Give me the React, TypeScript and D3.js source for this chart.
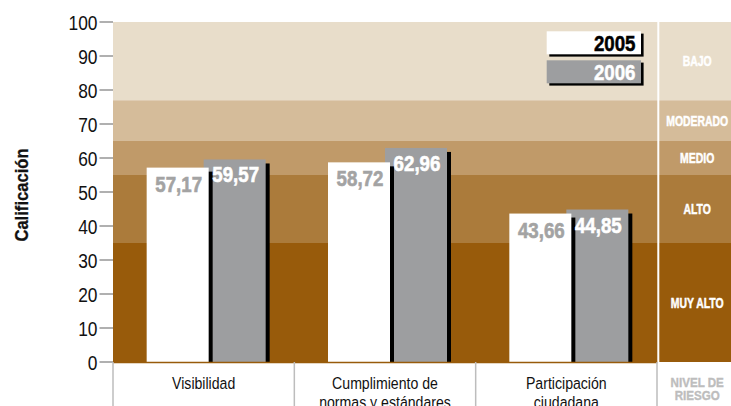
import React from "react";
import * as d3 from "d3";

const categories = ["Visibilidad", "Cumplimiento de|normas y estándares", "Participación|ciudadana"];
const values2005 = [57.17, 58.72, 43.66];
const values2006 = [59.57, 62.96, 44.85];
const yTicks = [0, 10, 20, 30, 40, 50, 60, 70, 80, 90, 100];
const riskBands = [
  { label: "MUY ALTO", from: 0, to: 35, color: "#985b0b" },
  { label: "ALTO", from: 35, to: 55, color: "#ab7b3b" },
  { label: "MEDIO", from: 55, to: 65, color: "#c09a69" },
  { label: "MODERADO", from: 65, to: 77, color: "#d5bc9a" },
  { label: "BAJO", from: 77, to: 100, color: "#e8ddca" },
];
const seriesNames = ["2005", "2006"];

const W = 731;
const H = 406;
const FONT = "'Liberation Sans', Arial, Helvetica, sans-serif";
const GRAY = "#9d9ea0";

const locale = d3.formatLocale({ decimal: ",", thousands: ".", grouping: [3], currency: ["", ""] });
const fmt = locale.format(".2f");

type STProps = {
  x: number;
  y: number;
  sx: number;
  anchor?: "start" | "middle" | "end";
  size: number;
  bold?: boolean;
  heavy?: number;
  fill: string;
  children: React.ReactNode;
};

function ST({ x, y, sx, anchor = "start", size, bold, heavy = 0, fill, children }: STProps) {
  return (
    <text
      transform={`translate(${x},${y}) scale(${sx},1)`}
      textAnchor={anchor}
      fontSize={size}
      fontWeight={bold ? "bold" : "normal"}
      fill={fill}
      stroke={heavy > 0 ? fill : "none"}
      strokeWidth={heavy}
    >
      {children}
    </text>
  );
}

export default function App() {
  const y = d3.scaleLinear().domain([0, 100]).range([362, 22]);
  const x = d3.scaleBand<string>().domain(categories).range([113, 657]).paddingInner(0).paddingOuter(0);
  const bw = x.bandwidth();
  const barW = 62;
  const shadow = 4;
  const colCenter = 697.2;

  return (
    <svg width={W} height={H} style={{ position: "absolute", left: 0, top: 0 }} fontFamily={FONT}>
      <rect x={0} y={0} width={W} height={H} fill="#fff" />
      {/* risk bands */}
      {riskBands.map((b) => (
        <g key={b.label}>
          <rect x={113} y={y(b.to)} width={W - 113} height={y(b.from) - y(b.to)} fill={b.color} />
          <ST x={colCenter} y={(y(b.to) + y(b.from)) / 2 + 5.3} sx={0.72} anchor="middle" size={14.5} bold heavy={0.5} fill="#fff">
            {b.label}
          </ST>
        </g>
      ))}
      <rect x={657.3} y={y(100)} width={2} height={y(0) - y(100)} fill="#fff" />

      {/* y ticks */}
      {yTicks.map((t) => (
        <g key={t}>
          <line x1={99.5} x2={113} y1={y(t)} y2={y(t)} stroke="#b0b0b0" strokeWidth={2} />
          <ST x={97.5} y={y(t) + 8.3} sx={0.89} anchor="end" size={19.5} fill="#111">
            {t}
          </ST>
        </g>
      ))}
      <text
        transform={`translate(27.5,195) rotate(-90) scale(0.95,1)`}
        textAnchor="middle"
        fontSize={17.5}
        fontWeight="bold"
        fill="#111"
        stroke="#111"
        strokeWidth={0.3}
      >
        Calificación
      </text>

      {/* bars */}
      {categories.map((c, i) => {
        const cx = (x(c) as number) + bw / 2;
        const wx = cx - 57;
        const gx = cx;
        const y5 = y(values2005[i]);
        const y6 = y(values2006[i]);
        return (
          <g key={c}>
            <rect x={gx + shadow} y={y6 + shadow} width={barW} height={y(0) - y6 - shadow} fill="#000" />
            <rect x={gx} y={y6} width={barW} height={y(0) - y6} fill={GRAY} />
            <rect x={wx + shadow} y={y5 + shadow} width={barW} height={y(0) - y5 - shadow} fill="#000" />
            <rect x={wx} y={y5} width={barW} height={y(0) - y5} fill="#fff" />
            <ST x={wx + barW / 2 + 1} y={y5 + 24} sx={0.85} anchor="middle" size={22} bold heavy={0.6} fill="#a3a3a3">
              {fmt(values2005[i])}
            </ST>
            <ST x={gx + barW / 2 + 1} y={y6 + 23} sx={0.85} anchor="middle" size={22} bold heavy={0.6} fill="#fff">
              {fmt(values2006[i])}
            </ST>
          </g>
        );
      })}
      <line x1={113} x2={657.3} y1={y(0) + 0.5} y2={y(0) + 0.5} stroke="#985b0b" strokeWidth={1.5} />

      {/* x axis dividers and labels */}
      {[...categories.map((c) => x(c) as number), 657].map((px, i) => (
        <line key={i} x1={px} x2={px} y1={y(0)} y2={H} stroke="#bdbdbd" strokeWidth={1.5} />
      ))}
      {categories.map((c) => {
        const cx = (x(c) as number) + bw / 2;
        return (
          <g key={c}>
            {c.split("|").map((line, j) => (
              <ST key={j} x={cx} y={388.5 + j * 19.5} sx={0.83} anchor="middle" size={17} fill="#111">
                {line}
              </ST>
            ))}
          </g>
        );
      })}
      <ST x={colCenter} y={386.7} sx={0.86} anchor="middle" size={13.5} bold heavy={0.4} fill="#bdbdbd">
        NIVEL DE
      </ST>
      <ST x={colCenter} y={399.8} sx={0.86} anchor="middle" size={13.5} bold heavy={0.4} fill="#bdbdbd">
        RIESGO
      </ST>

      {/* legend */}
      {seriesNames.map((s, i) => {
        const ly = 31.3 + i * 29;
        return (
          <g key={s}>
            <rect x={549.3} y={ly + 2.3} width={94.3} height={23} fill="#000" />
            <rect x={546.7} y={ly} width={94.3} height={23} fill={i === 0 ? "#fff" : GRAY} />
            <ST x={635.5} y={ly + 19.8} sx={0.87} anchor="end" size={21.5} bold heavy={0.5} fill={i === 0 ? "#000" : "#fff"}>
              {s}
            </ST>
          </g>
        );
      })}
    </svg>
  );
}
